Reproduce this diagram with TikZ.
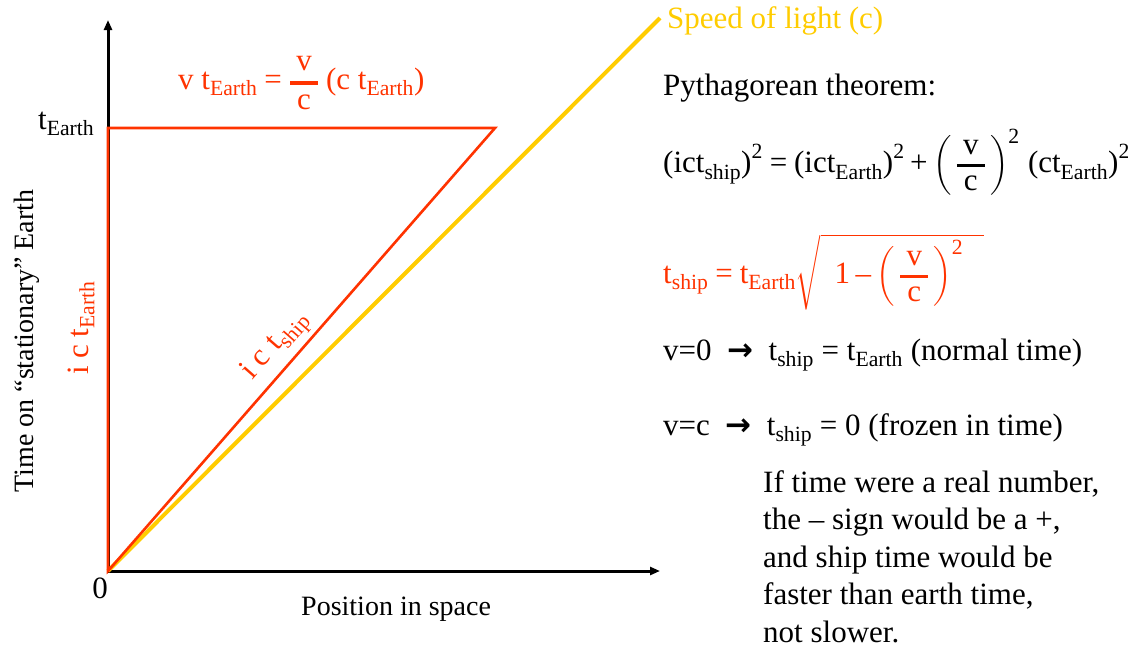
\documentclass[tikz,border=0pt]{standalone}
\usepackage{amsmath}
\usepackage{fontspec}
\setmainfont{Liberation Serif}
\newfontfamily\arrowfont{DejaVu Sans}
\usetikzlibrary{arrows.meta}
\definecolor{myred}{RGB}{255,51,0}
\definecolor{myyellow}{RGB}{255,204,0}
\newcommand{\myTE}{\text{t}_{\text{Earth}}}
\newcommand{\myTS}{\text{t}_{\text{ship}}}
\newcommand{\myVC}[1]{\genfrac{}{}{#1}{0}{\text{\hspace{0.2em}v\hspace{0.2em}}}{\text{c}}}
\newcommand{\myEq}{\mathrel{\text{=}}}
\newcommand{\myPl}{\mathbin{\text{+}}}
\newcommand{\mySq}{^{\text{2}}}
\newcommand{\myArr}{{\arrowfont\bfseries →}}
\tikzset{
  big/.style={font=\fontsize{31}{37.5}\selectfont, inner sep=0pt},
  axlbl/.style={font=\fontsize{28}{34}\selectfont, inner sep=0pt},
  axisline/.style={line width=3pt, -{Triangle[length=10pt,width=8pt]}},
  redline/.style={myred, line width=2.6pt, line join=miter},
  lightline/.style={myyellow, line width=4pt}
}
\begin{document}
\begin{tikzpicture}[x=1pt,y=-1pt]
\useasboundingbox (0,0) rectangle (1128,649);
% coordinates
\coordinate (O) at (108,571);
\coordinate (Ytop) at (108,20);
\coordinate (Xend) at (660,571);
\coordinate (Q) at (108,128);
\coordinate (P) at (495,128);
\coordinate (L) at (660,18);
% axes
\draw[axisline] (O) -- (Ytop);
\draw[axisline] (O) -- (Xend);
% light line
\draw[lightline] (O) -- (L);
% triangle
\draw[redline] (O) -- (Q) -- (P) -- cycle;
% labels left
\node[big, anchor=base west] (tE) at (38,129) {t\textsubscript{Earth}};
\node[big, anchor=base] (zero) at (100,598) {0};
\node[axlbl, anchor=base west] (xlab) at (301,615) {Position in space};
\node[axlbl, anchor=base, rotate=90] (ylab) at (33,341) {Time on ``stationary'' Earth};
\node[big, myred, anchor=base, rotate=90] (icte) at (88,328) {i c t\textsubscript{Earth}};
\node[big, myred, anchor=center, rotate=48.8] (icts) at (276,346) {i c t\textsubscript{ship}};
% top formula
\node[big, myred, anchor=base west] (vt) at (178,89)
  {$\text{v}\ \myTE \myEq \myVC{3.5pt}\;\text{(c}\ \myTE\text{)}$};
% light label
\node[big, myyellow, anchor=base west] (sol) at (667,28) {Speed of light (c)};
% right side
\node[big, anchor=base west] (pyth) at (663,95) {Pythagorean theorem:};
\node[big, anchor=base west] (eq1) at (663,172)
  {$\text{(ict}_{\text{ship}}\text{)}\mySq \myEq \text{(ict}_{\text{Earth}}\text{)}\mySq \myPl \left(\,\myVC{3pt}\,\right)\mySq\,\text{(ct}_{\text{Earth}}\text{)}\mySq$};
\node[big, myred, anchor=base west] (eq2) at (663,283)
  {$\myTS \myEq \myTE\sqrt{\;\;\text{1} \mathbin{\text{–}} \left(\,\myVC{3pt}\,\right)\mySq\;\;\;}$};
\node[big, anchor=base west] (v0) at (663,360)
  {v=0 \ \myArr\ \ t\textsubscript{ship} = t\textsubscript{Earth} (normal time)};
\node[big, anchor=base west] (vc) at (663,435)
  {v=c \ \myArr\ \ t\textsubscript{ship} = 0 (frozen in time)};
\node[big, anchor=north west, align=left] (note) at (763,470)
  {If time were a real number,\\the – sign would be a +,\\and ship time would be\\faster than earth time,\\not slower.};
\end{tikzpicture}
\end{document}
